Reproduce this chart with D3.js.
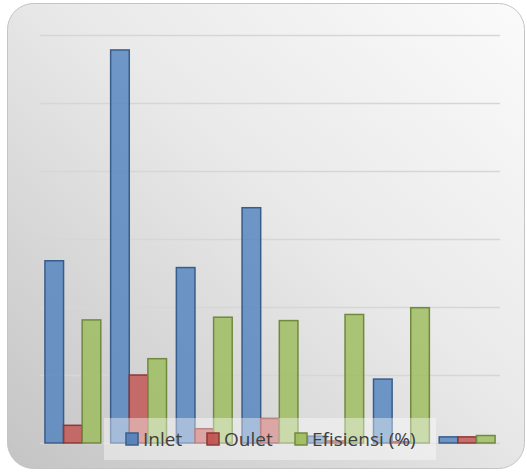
<!DOCTYPE html>
<html>
<head>
<meta charset="utf-8">
<script src="https://cdn.jsdelivr.net/npm/d3@7"></script>
<style>
  html, body { margin: 0; padding: 0; background: #ffffff; }
  svg { display: block; }
</style>
</head>
<body>
<div id="chart"></div>
<script>
var svgWidth = 527;
var svgHeight = 472;

// data
var categories = ["1", "2", "3", "4", "5", "6", "7"];
var seriesNames = ["Inlet", "Oulet", "Efisiensi (%)"];
var inlet = [134, 289, 129, 173, 5, 47, 4.5];
var oulet = [13, 50, 10.5, 18, 1.5, 1, 4.5];
var efisiensi = [90.5, 62, 92.5, 90, 94.5, 99.5, 5.5];
var gridTicks = [0, 50, 100, 150, 200, 250, 300];

var fills = ["#4F81BD", "#C0504D", "#9BBB59"];
var strokes = ["#385D8A", "#8C3836", "#71893F"];

var plot = { left: 40, right: 500, top: 35, bottom: 443 };

var svg = d3.select("#chart")
  .append("svg")
  .attr("width", svgWidth)
  .attr("height", svgHeight);

// background gradient of the chart area
var defs = svg.append("defs");
var grad = defs.append("linearGradient")
  .attr("id", "bg")
  .attr("x1", "1").attr("y1", "0")
  .attr("x2", "0").attr("y2", "1");
grad.append("stop").attr("offset", "0%").attr("stop-color", "#fbfbfb");
grad.append("stop").attr("offset", "45%").attr("stop-color", "#e9e9e9");
grad.append("stop").attr("offset", "100%").attr("stop-color", "#c4c4c4");

svg.append("rect")
  .attr("x", 7.5)
  .attr("y", 3.5)
  .attr("width", 517)
  .attr("height", 465)
  .attr("rx", 26)
  .attr("fill", "url(#bg)")
  .attr("stroke", "#c4c4c4")
  .attr("stroke-width", 1);

// scales
var yScale = d3.scaleLinear()
  .domain([0, 300])
  .range([plot.bottom, plot.top]);

var x0 = d3.scaleBand()
  .domain(categories)
  .range([plot.left, plot.right])
  .padding(0);

var bw = x0.bandwidth();
var x1 = d3.scaleBand()
  .domain(seriesNames)
  .range([bw * 0.075, bw * 0.925])
  .padding(0);

// gridlines
var grid = svg.append("g")
  .attr("transform", `translate(${plot.left}, 0)`)
  .call(d3.axisLeft(yScale)
    .tickValues(gridTicks)
    .tickSize(-(plot.right - plot.left))
    .tickFormat(""));
grid.select(".domain").remove();
grid.selectAll("line")
  .attr("stroke", "#d6d6d6")
  .attr("stroke-width", 1.5);

// bars
var rows = categories.map(function(c, i) {
  return { cat: c, values: [inlet[i], oulet[i], efisiensi[i]] };
});

var groups = svg.append("g").selectAll("g")
  .data(rows)
  .enter()
  .append("g")
  .attr("transform", d => `translate(${x0(d.cat)}, 0)`);

groups.selectAll("rect")
  .data(d => d.values.map(function(v, j) { return { name: seriesNames[j], value: v, j: j }; }))
  .enter()
  .append("rect")
  .attr("x", d => x1(d.name))
  .attr("y", d => yScale(d.value))
  .attr("width", x1.bandwidth())
  .attr("height", d => plot.bottom - yScale(d.value))
  .attr("fill", d => fills[d.j])
  .attr("fill-opacity", 0.8)
  .attr("stroke", d => strokes[d.j])
  .attr("stroke-width", 1.5);

// legend
var legend = svg.append("g");
legend.append("rect")
  .attr("x", 104)
  .attr("y", 418)
  .attr("width", 332)
  .attr("height", 42)
  .attr("fill", "#ffffff")
  .attr("fill-opacity", 0.4);

var legendX = [126, 207, 295];
var items = legend.selectAll("g.item")
  .data(seriesNames)
  .enter()
  .append("g")
  .attr("class", "item")
  .attr("transform", (d, i) => `translate(${legendX[i]}, 433)`);

items.append("rect")
  .attr("width", 12)
  .attr("height", 12)
  .attr("fill", (d, i) => fills[i])
  .attr("fill-opacity", 0.9)
  .attr("stroke", (d, i) => strokes[i])
  .attr("stroke-width", 1.5);

items.append("text")
  .attr("x", 17)
  .attr("y", 12.8)
  .attr("font-family", "'Open Sans', sans-serif")
  .attr("font-size", 19)
  .attr("fill", "#404040")
  .text(d => d);
</script>
</body>
</html>
